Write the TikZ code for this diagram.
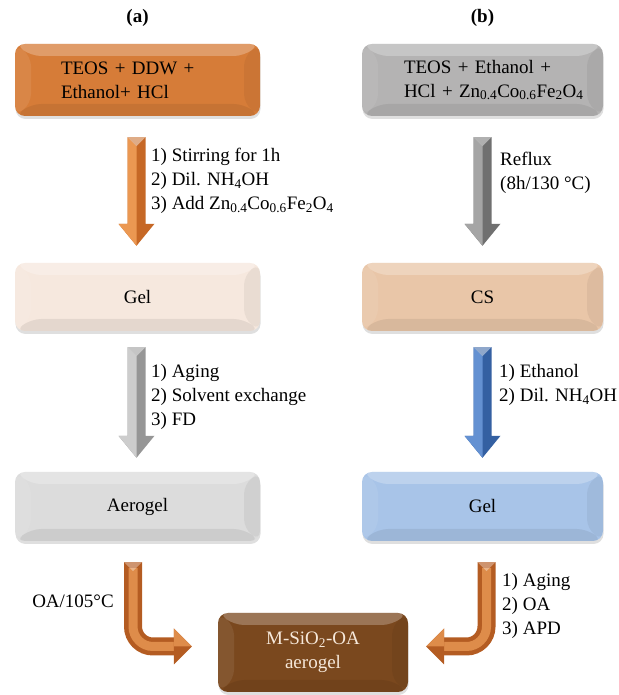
\documentclass[tikz,border=0pt]{standalone}
\usepackage{fontspec}
\setmainfont{Liberation Serif}
\usetikzlibrary{calc,shadows}
\hfuzz=200pt
\hbadness=10000
\newcommand\myfs{\fontsize{19}{24}\selectfont}
\definecolor{boxA}{RGB}{214,124,56}
\definecolor{boxB}{RGB}{180,179,179}
\definecolor{boxC}{RGB}{246,232,222}
\definecolor{boxD}{RGB}{233,198,168}
\definecolor{boxE}{RGB}{220,220,220}
\definecolor{boxF}{RGB}{168,196,232}
\definecolor{boxM}{RGB}{122,72,30}
\definecolor{txtM}{RGB}{246,232,218}
\definecolor{orD}{RGB}{198,104,38}
\definecolor{orL}{RGB}{235,152,82}
\definecolor{grD}{RGB}{112,112,112}
\definecolor{grL}{RGB}{165,165,165}
\definecolor{lgD}{RGB}{150,150,150}
\definecolor{lgL}{RGB}{205,205,205}
\definecolor{blD}{RGB}{52,96,162}
\definecolor{blL}{RGB}{100,145,210}
\definecolor{brD}{RGB}{180,92,34}
\definecolor{brL}{RGB}{222,140,74}
\tikzset{
  bevel/.style={path picture={
    \path (path picture bounding box.north west) coordinate (bNW)
          (path picture bounding box.north east) coordinate (bNE)
          (path picture bounding box.south west) coordinate (bSW)
          (path picture bounding box.south east) coordinate (bSE);
    \path ($(bNW)+(16pt,-12pt)$) coordinate (iNW)
          ($(bNE)+(-16pt,-12pt)$) coordinate (iNE)
          ($(bSW)+(16pt,12pt)$) coordinate (iSW)
          ($(bSE)+(-16pt,12pt)$) coordinate (iSE);
    \fill[white,opacity=.25] (bNW) -- (bNE) -- (iNE) -- (iNW) -- cycle;
    \fill[white,opacity=.08] (bNW) -- (iNW) -- (iSW) -- (bSW) -- cycle;
    \fill[black,opacity=.05] (bNE) -- (bSE) -- (iSE) -- (iNE) -- cycle;
    \fill[black,opacity=.07] (bSW) -- (iSW) -- (iSE) -- (bSE) -- cycle;
  }},
  box/.style={rounded corners=10pt, inner sep=0pt, font=\myfs,
    drop shadow={shadow xshift=0.5pt, shadow yshift=-3pt, opacity=.25},
    bevel},
  lbl/.style={inner sep=0pt, align=left, font=\myfs},
  ttl/.style={inner sep=0pt, font=\myfs\bfseries}
}
\newcommand{\blockarrow}[4]{%
  \fill[#3] let \p1=(#1), \p2=(#2) in
    (\x1-9pt,\y1) -- (\x1+9pt,\y1) -- (\x1+9pt,\y2+22pt) -- (\x1+18pt,\y2+22pt)
    -- (\x1,\y2) -- (\x1-18pt,\y2+22pt) -- (\x1-9pt,\y2+22pt) -- cycle;
  \fill[#4] let \p1=(#1), \p2=(#2) in
    (\x1-9pt,\y1) -- (\x1,\y1-9pt) -- (\x1,\y2) -- (\x1-18pt,\y2+22pt)
    -- (\x1-9pt,\y2+22pt) -- cycle;
  \fill[white,opacity=.45] let \p1=(#1) in
    (\x1-9pt,\y1) -- (\x1+9pt,\y1) -- (\x1,\y1-9pt) -- cycle;
}
% #5: signed head length (positive = arrow points right)
\newcommand{\bentarrow}[5]{%
  \draw[#3, line width=18pt, rounded corners=20pt] let \p1=(#1), \p2=(#2) in
    (\x1,\y1) -- (\x1,\y2) -- ({\x2-1*#5},\y2);
  \draw[#4, line width=9pt, rounded corners=20pt] let \p1=(#1), \p2=(#2) in
    (\x1,\y1-6pt) -- (\x1,\y2) -- ({\x2-1*#5},\y2);
  \fill[white,opacity=.35] let \p1=(#1) in
    (\x1-9pt,\y1) -- (\x1+9pt,\y1) -- (\x1,\y1-9pt) -- cycle;
  \fill[#3] let \p2=(#2) in
    ({\x2-1*#5},\y2+18pt) -- (\x2,\y2) -- ({\x2-1*#5},\y2-18pt) -- cycle;
  \fill[#4] let \p2=(#2) in
    ({\x2-1*#5},\y2+18pt) -- (\x2,\y2) -- ({\x2-1*#5},\y2) -- cycle;
}
\begin{document}
\begin{tikzpicture}[x=1pt,y=1pt]
\useasboundingbox (0,0) rectangle (618,695);

\node[ttl] (ta) at (137.5,677) {(a)};
\node[ttl] (tb) at (482.5,677) {(b)};

\node[box, fill=boxA, minimum width=245pt, minimum height=72pt, text width=153pt, align=left] (a1) at (137.5,615) {\mbox{TEOS + DDW +}\\\mbox{Ethanol+ HCl}};
\node[box, fill=boxB, minimum width=241pt, minimum height=72pt, text width=157pt, align=left] (b1) at (482.5,615) {\mbox{TEOS + Ethanol +}\\\mbox{HCl + Zn\textsubscript{0.4}Co\textsubscript{0.6}Fe\textsubscript{2}O\textsubscript{4}}};

\node[box, fill=boxC, minimum width=245pt, minimum height=68pt] (a2) at (137.5,398) {Gel};
\node[box, fill=boxD, minimum width=241pt, minimum height=68pt] (b2) at (482.5,398) {CS};

\node[box, fill=boxE, minimum width=245pt, minimum height=69pt] (a3) at (137.5,188.5) {Aerogel};
\node[box, fill=boxF, minimum width=241pt, minimum height=69pt] (b3) at (482.5,188.5) {Gel};

\node[box, fill=boxM, text=txtM, minimum width=190pt, minimum height=79pt, align=center] (m) at (313,42.5) {M-SiO\textsubscript{2}-OA\\aerogel};

\blockarrow{[xshift=-1pt,yshift=-21pt]a1.south}{[xshift=-1pt,yshift=17pt]a2.north}{orD}{orL}
\blockarrow{[yshift=-21pt]b1.south}{[yshift=17pt]b2.north}{grD}{grL}
\blockarrow{[xshift=-1pt,yshift=-16pt]a2.south}{[xshift=-1pt,yshift=14pt]a3.north}{lgD}{lgL}
\blockarrow{[yshift=-16pt]b2.south}{[yshift=14pt]b3.north}{blD}{blL}

\bentarrow{[xshift=-4.5pt,yshift=-21pt]a3.south}{[xshift=-26pt,yshift=6pt]m.west}{brD}{brL}{18pt}
\bentarrow{[xshift=4pt,yshift=-21pt]b3.south}{[xshift=18pt,yshift=6pt]m.east}{brD}{brL}{-18pt}

\node[lbl, anchor=west] (la1) at (151,514) {1) Stirring for 1h\\2) Dil. NH\textsubscript{4}OH\\3) Add Zn\textsubscript{0.4}Co\textsubscript{0.6}Fe\textsubscript{2}O\textsubscript{4}};
\node[lbl, anchor=west] (lb1) at (500,522.5) {Reflux\\(8h/130 °C)};
\node[lbl, anchor=west] (la2) at (151,298) {1) Aging\\2) Solvent exchange\\3) FD};
\node[lbl, anchor=west] (lb2) at (499,310) {1) Ethanol\\2) Dil. NH\textsubscript{4}OH};
\node[lbl] (lc1) at (73,94) {OA/105°C};
\node[lbl, anchor=west] (lc2) at (502,89) {1) Aging\\2) OA\\3) APD};
\end{tikzpicture}
\end{document}
